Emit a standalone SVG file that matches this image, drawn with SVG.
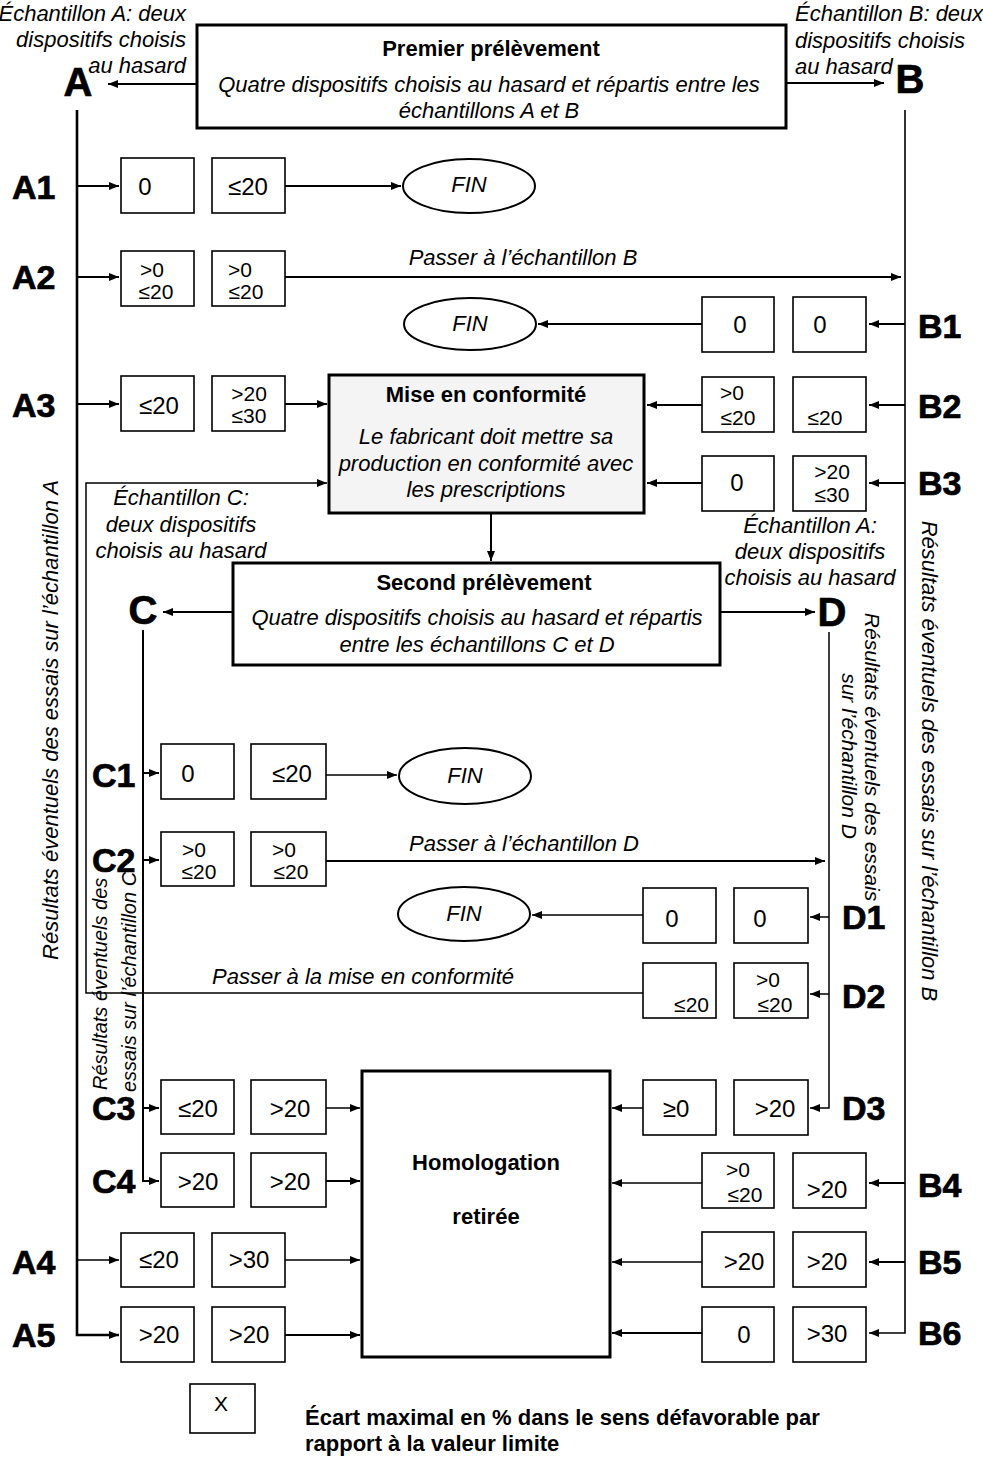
<svg xmlns="http://www.w3.org/2000/svg" width="983" height="1457" viewBox="0 0 983 1457">
<defs>
<marker id="ah" markerUnits="userSpaceOnUse" markerWidth="10" markerHeight="8" refX="10" refY="4" orient="auto">
<path d="M0,0 L10,4 L0,8 z" fill="#000"/>
</marker>
<style>
text{font-family:"Liberation Sans",Arial,Helvetica,sans-serif;fill:#000}
.box{fill:#fff;stroke:#000;stroke-width:1.6}
.main{fill:#fff;stroke:#000;stroke-width:3}
.ell{fill:#fff;stroke:#000;stroke-width:2}
.v{font-size:24px;text-anchor:middle}
.v2{font-size:21px;text-anchor:middle}
.it{font-style:italic;font-size:22px}
.itc{font-style:italic;font-size:22px;text-anchor:middle}
.ttl{font-weight:bold;font-size:22px;text-anchor:middle}
.lbl{font-weight:bold;font-size:34px;stroke:#000;stroke-width:0.7}
.big{font-weight:bold;font-size:40px;text-anchor:middle;stroke:#000;stroke-width:0.7}
.ln{stroke:#000;stroke-width:2;fill:none}
.la{stroke:#000;stroke-width:2;fill:none;marker-end:url(#ah)}
.thin{stroke:#000;stroke-width:1.5;fill:none;marker-end:url(#ah)}
</style>
</defs>
<rect width="983" height="1457" fill="#fff"/>

<g id="connectors">
<line class="la" x1="197" y1="84" x2="108" y2="84"/>
<line class="la" x1="786" y1="83" x2="884" y2="83"/>
<path class="la" d="M77,110 V1335 H119" style="stroke-width:2.6"/>
<line class="la" x1="77" y1="186" x2="119" y2="186"/>
<line class="la" x1="77" y1="277" x2="119" y2="277"/>
<line class="la" x1="77" y1="404" x2="119" y2="404"/>
<line class="thin" x1="77" y1="1260" x2="119" y2="1260"/>
<path class="la" d="M905,110 V1333 H869" style="stroke-width:1.6"/>
<line class="la" x1="905" y1="324" x2="869" y2="324"/>
<line class="la" x1="905" y1="405" x2="869" y2="405"/>
<line class="la" x1="905" y1="483" x2="869" y2="483"/>
<line class="la" x1="905" y1="1183" x2="869" y2="1183"/>
<line class="la" x1="905" y1="1262" x2="869" y2="1262"/>
<line class="la" x1="285" y1="186" x2="401" y2="186"/>
<line class="la" x1="285" y1="277" x2="901" y2="277"/>
<line class="la" x1="285" y1="404" x2="327" y2="404"/>
<line class="la" x1="702" y1="324" x2="538" y2="324"/>
<line class="la" x1="702" y1="405" x2="647" y2="405"/>
<line class="la" x1="702" y1="483" x2="647" y2="483"/>
<line class="la" x1="491" y1="513" x2="491" y2="561"/>
<line class="la" x1="233" y1="612" x2="163" y2="612"/>
<line class="la" x1="720" y1="612" x2="815" y2="612"/>
<path class="la" d="M143,630 V1181 H159"/>
<line class="la" x1="143" y1="773" x2="159" y2="773"/>
<line class="la" x1="143" y1="860" x2="159" y2="860"/>
<line class="la" x1="143" y1="1108" x2="159" y2="1108"/>
<path class="thin" d="M829,632 V1108 H810"/>
<line class="thin" x1="829" y1="917" x2="810" y2="917"/>
<line class="thin" x1="829" y1="994" x2="810" y2="994"/>
<line class="thin" x1="326" y1="775" x2="397" y2="775"/>
<line class="la" x1="326" y1="861" x2="825" y2="861"/>
<line class="thin" x1="643" y1="915" x2="532" y2="915"/>
<path class="thin" d="M643,993 H86 V483 H327"/>
<line class="thin" x1="643" y1="1108" x2="612" y2="1108"/>
<line class="thin" x1="326" y1="1108" x2="360" y2="1108"/>
<line class="la" x1="326" y1="1181" x2="360" y2="1181"/>
<line class="thin" x1="285" y1="1260" x2="360" y2="1260"/>
<line class="la" x1="285" y1="1335" x2="360" y2="1335"/>
<line class="thin" x1="702" y1="1183" x2="612" y2="1183"/>
<line class="thin" x1="702" y1="1262" x2="612" y2="1262"/>
<line class="la" x1="702" y1="1333" x2="612" y2="1333"/>
<text class="itc" x="523" y="265">Passer à l’échantillon B</text>
<text class="itc" x="524" y="851">Passer à l’échantillon D</text>
<text class="itc" x="363" y="984">Passer à la mise en conformité</text>
</g>

<g id="premier">
<rect class="main" x="197" y="25" width="589" height="103"/>
<text class="ttl" x="491" y="56">Premier prélèvement</text>
<text class="itc" x="489" y="92">Quatre dispositifs choisis au hasard et répartis entre les</text>
<text class="itc" x="489" y="118">échantillons A et B</text>
</g>

<g id="A">
<text class="big" x="78" y="96">A</text>
<text class="it" x="186" y="21" style="text-anchor:end">Échantillon A: deux</text>
<text class="it" x="186" y="47" style="text-anchor:end">dispositifs choisis</text>
<text class="it" x="186" y="73" style="text-anchor:end">au hasard</text>
<text class="it" transform="translate(58,720) rotate(-90)" style="text-anchor:middle">Résultats éventuels des essais sur l’échantillon A</text>
</g>

<g id="B">
<text class="big" x="910" y="93">B</text>
<text class="it" x="795" y="21">Échantillon B: deux</text>
<text class="it" x="795" y="48">dispositifs choisis</text>
<text class="it" x="795" y="74">au hasard</text>
<text class="it" transform="translate(922,761) rotate(90)" style="text-anchor:middle">Résultats éventuels des essais sur l’échantillon B</text>
</g>

<g id="A1">
<text class="lbl" x="12" y="199">A1</text>
<rect class="box" x="121" y="158" width="73" height="55"/>
<rect class="box" x="212" y="158" width="73" height="55"/>
<text class="v" x="145" y="195">0</text>
<text class="v" x="248" y="195">≤20</text>
</g>
<g id="fin1">
<ellipse class="ell" cx="469" cy="186" rx="66" ry="27"/>
<text class="itc" x="469" y="192">FIN</text>
</g>

<g id="A2">
<text class="lbl" x="12" y="289">A2</text>
<rect class="box" x="121" y="251" width="73" height="55"/>
<rect class="box" x="212" y="251" width="73" height="55"/>
<text class="v2" x="152" y="277">&gt;0</text>
<text class="v2" x="156" y="299">≤20</text>
<text class="v2" x="240" y="277">&gt;0</text>
<text class="v2" x="246" y="299">≤20</text>
</g>

<g id="B1">
<text class="lbl" x="918" y="338">B1</text>
<rect class="box" x="702" y="297" width="72" height="55"/>
<rect class="box" x="793" y="297" width="73" height="55"/>
<text class="v" x="740" y="333">0</text>
<text class="v" x="820" y="333">0</text>
</g>
<g id="fin2">
<ellipse class="ell" cx="470" cy="324" rx="66" ry="26"/>
<text class="itc" x="470" y="331">FIN</text>
</g>

<g id="A3">
<text class="lbl" x="12" y="417">A3</text>
<rect class="box" x="121" y="376" width="73" height="55"/>
<rect class="box" x="212" y="376" width="73" height="55"/>
<text class="v" x="159" y="414">≤20</text>
<text class="v2" x="249" y="401">&gt;20</text>
<text class="v2" x="249" y="423">≤30</text>
</g>

<g id="mise">
<rect class="main" x="329" y="375" width="315" height="138" style="fill:#f4f4f4"/>
<text class="ttl" x="486" y="402">Mise en conformité</text>
<text class="itc" x="486" y="444">Le fabricant doit mettre sa</text>
<text class="itc" x="486" y="471">production en conformité avec</text>
<text class="itc" x="486" y="497">les prescriptions</text>
</g>

<g id="B2">
<text class="lbl" x="918" y="418">B2</text>
<rect class="box" x="702" y="377" width="72" height="55"/>
<rect class="box" x="793" y="377" width="73" height="55"/>
<text class="v2" x="732" y="400">&gt;0</text>
<text class="v2" x="738" y="425">≤20</text>
<text class="v2" x="825" y="425">≤20</text>
</g>

<g id="B3">
<text class="lbl" x="918" y="495">B3</text>
<rect class="box" x="702" y="456" width="72" height="55"/>
<rect class="box" x="793" y="456" width="73" height="55"/>
<text class="v" x="737" y="491">0</text>
<text class="v2" x="832" y="479">&gt;20</text>
<text class="v2" x="832" y="502">≤30</text>
</g>

<g id="C">
<text class="big" x="143" y="624">C</text>
<text class="itc" x="181" y="505">Échantillon C:</text>
<text class="itc" x="181" y="532">deux dispositifs</text>
<text class="itc" x="181" y="558">choisis au hasard</text>
<text class="it" style="font-size:20px" transform="translate(107,1090) rotate(-90)">Résultats éventuels des</text>
<text class="it" style="font-size:20px" transform="translate(136,1092) rotate(-90)">essais sur l’échantillon C</text>
</g>

<g id="second">
<rect class="main" x="233" y="563" width="487" height="102"/>
<text class="ttl" x="484" y="590">Second prélèvement</text>
<text class="itc" x="477" y="625">Quatre dispositifs choisis au hasard et répartis</text>
<text class="itc" x="477" y="652">entre les échantillons C et D</text>
</g>

<g id="D">
<text class="big" x="832" y="626">D</text>
<text class="itc" x="810" y="533">Échantillon A:</text>
<text class="itc" x="810" y="559">deux dispositifs</text>
<text class="itc" x="810" y="585">choisis au hasard</text>
<text class="it" style="font-size:21px;text-anchor:middle" transform="translate(865,757) rotate(90)">Résultats éventuels des essais</text>
<text class="it" style="font-size:21px;text-anchor:middle" transform="translate(842,756) rotate(90)">sur l’échantillon D</text>
</g>

<g id="C1">
<text class="lbl" x="92" y="787">C1</text>
<rect class="box" x="161" y="744" width="73" height="55"/>
<rect class="box" x="251" y="744" width="75" height="55"/>
<text class="v" x="188" y="782">0</text>
<text class="v" x="292" y="782">≤20</text>
</g>
<g id="fin3">
<ellipse class="ell" cx="465" cy="776" rx="66" ry="28"/>
<text class="itc" x="465" y="783">FIN</text>
</g>

<g id="C2">
<text class="lbl" x="92" y="872">C2</text>
<rect class="box" x="161" y="832" width="73" height="54"/>
<rect class="box" x="251" y="832" width="75" height="54"/>
<text class="v2" x="194" y="857">&gt;0</text>
<text class="v2" x="199" y="879">≤20</text>
<text class="v2" x="284" y="857">&gt;0</text>
<text class="v2" x="291" y="879">≤20</text>
</g>

<g id="D1">
<text class="lbl" x="842" y="929">D1</text>
<rect class="box" x="643" y="888" width="73" height="55"/>
<rect class="box" x="734" y="888" width="74" height="55"/>
<text class="v" x="672" y="927">0</text>
<text class="v" x="760" y="927">0</text>
</g>
<g id="fin4">
<ellipse class="ell" cx="464" cy="914" rx="66" ry="27"/>
<text class="itc" x="464" y="921">FIN</text>
</g>

<g id="D2">
<text class="lbl" x="842" y="1008">D2</text>
<rect class="box" x="643" y="963" width="73" height="55"/>
<rect class="box" x="734" y="963" width="74" height="55"/>
<text class="v2" x="709" y="1012" style="text-anchor:end">≤20</text>
<text class="v2" x="768" y="987">&gt;0</text>
<text class="v2" x="775" y="1012">≤20</text>
</g>

<g id="D3">
<text class="lbl" x="842" y="1120">D3</text>
<rect class="box" x="643" y="1080" width="73" height="55"/>
<rect class="box" x="734" y="1080" width="74" height="55"/>
<text class="v" x="676" y="1117">≥0</text>
<text class="v" x="775" y="1117">&gt;20</text>
</g>

<g id="homologation">
<rect class="main" x="362" y="1071" width="248" height="286"/>
<text class="ttl" x="486" y="1170">Homologation</text>
<text class="ttl" x="486" y="1224">retirée</text>
</g>

<g id="C3">
<text class="lbl" x="92" y="1120">C3</text>
<rect class="box" x="161" y="1080" width="73" height="54"/>
<rect class="box" x="251" y="1080" width="75" height="54"/>
<text class="v" x="198" y="1117">≤20</text>
<text class="v" x="290" y="1117">&gt;20</text>
</g>

<g id="C4">
<text class="lbl" x="92" y="1193">C4</text>
<rect class="box" x="161" y="1153" width="73" height="54"/>
<rect class="box" x="251" y="1153" width="75" height="54"/>
<text class="v" x="198" y="1190">&gt;20</text>
<text class="v" x="290" y="1190">&gt;20</text>
</g>

<g id="B4">
<text class="lbl" x="918" y="1197">B4</text>
<rect class="box" x="702" y="1153" width="72" height="55"/>
<rect class="box" x="793" y="1153" width="73" height="55"/>
<text class="v2" x="738" y="1177">&gt;0</text>
<text class="v2" x="745" y="1202">≤20</text>
<text class="v" x="827" y="1198">&gt;20</text>
</g>

<g id="A4">
<text class="lbl" x="12" y="1274">A4</text>
<rect class="box" x="121" y="1233" width="73" height="54"/>
<rect class="box" x="212" y="1233" width="73" height="54"/>
<text class="v" x="159" y="1268">≤20</text>
<text class="v" x="249" y="1268">&gt;30</text>
</g>

<g id="B5">
<text class="lbl" x="918" y="1274">B5</text>
<rect class="box" x="702" y="1232" width="72" height="55"/>
<rect class="box" x="793" y="1232" width="73" height="55"/>
<text class="v" x="744" y="1270">&gt;20</text>
<text class="v" x="827" y="1270">&gt;20</text>
</g>

<g id="A5">
<text class="lbl" x="12" y="1347">A5</text>
<rect class="box" x="121" y="1307" width="73" height="55"/>
<rect class="box" x="212" y="1307" width="73" height="55"/>
<text class="v" x="159" y="1343">&gt;20</text>
<text class="v" x="249" y="1343">&gt;20</text>
</g>

<g id="B6">
<text class="lbl" x="918" y="1345">B6</text>
<rect class="box" x="702" y="1307" width="72" height="55"/>
<rect class="box" x="793" y="1307" width="73" height="55"/>
<text class="v" x="744" y="1343">0</text>
<text class="v" x="827" y="1342">&gt;30</text>
</g>

<g id="legend">
<rect class="box" x="190" y="1384" width="65" height="49"/>
<text x="214" y="1411" style="font-size:21px">X</text>
<text x="305" y="1425" style="font-size:22px;font-weight:bold">Écart maximal en % dans le sens défavorable par</text>
<text x="305" y="1451" style="font-size:22px;font-weight:bold">rapport à la valeur limite</text>
</g>
</svg>
